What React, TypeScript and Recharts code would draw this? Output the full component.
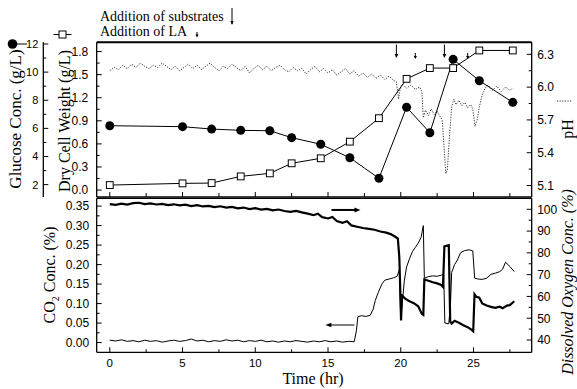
import React from 'react';
import { ComposedChart, Line, XAxis, YAxis, ReferenceDot } from 'recharts';

// ---------- data ----------
const sampleTime = [0, 5, 7, 9, 11, 12.5, 14.5, 16.5, 18.5, 20.4, 22, 23.6, 25.4, 27.7];
const glucoseConc = [6.19, 6.12, 5.95, 5.86, 5.83, 5.34, 4.87, 3.91, 2.45, 7.5, 5.69, 10.91, 9.39, 7.85];
const dryCellWeight = [0.065, 0.087, 0.091, 0.178, 0.217, 0.348, 0.413, 0.629, 0.934, 1.445, 1.585, 1.585, 1.814, 1.814];

const phTime = [
  0, 0.3, 0.6, 0.9, 1.2, 1.5, 1.8, 2.1, 2.4, 2.7, 3.0, 3.3, 3.6, 3.9, 4.2, 4.5, 4.8, 5.1, 5.4, 5.7,
  6.0, 6.3, 6.6, 6.9, 7.2, 7.5, 7.8, 8.1, 8.4, 8.7, 9.0, 9.3, 9.6, 9.9, 10.2, 10.5, 10.8, 11.1, 11.4, 11.7,
  12.0, 12.3, 12.6, 12.9, 13.2, 13.5, 13.8, 14.1, 14.4, 14.7, 15.0, 15.3, 15.6, 15.9, 16.2, 16.5, 16.8, 17.1, 17.4, 17.7,
  18.0, 18.3, 18.6, 18.9, 19.2, 19.5, 19.7, 19.85, 19.95, 20.1, 20.4, 20.7, 21.0, 21.3, 21.45, 21.55, 21.7, 21.9, 22.1, 22.3,
  22.5, 22.7, 22.85, 23.0, 23.1, 23.2, 23.35, 23.5, 23.65, 23.8, 24.0, 24.2, 24.4, 24.6, 24.8, 24.95, 25.1, 25.25, 25.4, 25.6,
  25.8, 26.0, 26.3, 26.6, 26.9, 27.2, 27.5, 27.7,
];
const phValue = [
  6.15, 6.18, 6.16, 6.2, 6.17, 6.21, 6.18, 6.22, 6.19, 6.17, 6.2, 6.18, 6.22, 6.19, 6.16, 6.19, 6.15, 6.18, 6.21, 6.17,
  6.2, 6.16, 6.19, 6.22, 6.18, 6.15, 6.19, 6.17, 6.21, 6.18, 6.15, 6.19, 6.13, 6.17, 6.2, 6.16, 6.19, 6.15, 6.18, 6.2,
  6.16, 6.14, 6.18, 6.15, 6.17, 6.12, 6.16, 6.19, 6.14, 6.17, 6.13, 6.16, 6.11, 6.14, 6.17, 6.12, 6.15, 6.1, 6.13, 6.09,
  6.12, 6.08, 6.11, 6.07, 6.1, 6.06, 6.05, 5.89, 5.98, 6.03, 5.99, 6.02, 5.98, 6.0, 5.96, 5.72, 5.79, 5.74, 5.8, 5.75,
  5.78, 5.73, 5.7, 5.4, 5.21, 5.24, 5.55, 5.82, 5.89, 5.84, 5.88, 5.83, 5.86, 5.81, 5.84, 5.8, 5.64, 5.7, 5.82, 5.93,
  5.99, 6.02, 5.97, 6.01, 5.96, 6.0, 5.97, 5.99,
];

const co2Time = [
  0, 0.4, 0.8, 1.2, 1.6, 2.0, 2.4, 2.8, 3.2, 3.6, 4.0, 4.4, 4.8, 5.2, 5.6, 6.0, 6.4, 6.8, 7.2, 7.6,
  8.0, 8.4, 8.8, 9.2, 9.6, 10.0, 10.4, 10.8, 11.2, 11.6, 12.0, 12.4, 12.8, 13.2, 13.6, 14.0, 14.4, 14.8, 15.2, 15.6,
  16.0, 16.4, 16.8, 16.95, 17.05, 17.3, 17.6, 17.9, 18.1, 18.25, 18.45, 18.7, 18.9, 19.2, 19.5, 19.75, 19.9, 20.0, 20.1, 20.25,
  20.4, 20.6, 20.8, 21.0, 21.2, 21.4, 21.55, 21.62, 21.9, 22.2, 22.5, 22.8, 22.95, 23.03, 23.3, 23.42, 23.5, 23.7, 23.9, 24.1,
  24.4, 24.7, 24.95, 25.08, 25.3, 25.6, 25.9, 26.2, 26.5, 26.8, 27.0, 27.2, 27.5, 27.8,
];
const co2Conc = [
  0.006, 0.004, 0.007, 0.003, 0.005, 0.002, 0.006, 0.003, 0.005, 0.001, 0.004, 0.006, 0.003, 0.005, 0.009, 0.004, 0.006, 0.002, 0.005, 0.003,
  0.007, 0.004, 0.006, 0.002, 0.005, 0.003, 0.006, 0.002, 0.004, 0.001, 0.004, 0.002, 0.005, 0.003, 0.001, 0.004, 0.002, 0.005, 0.002, 0.004,
  0.001, 0.003, 0.002, 0.03, 0.066, 0.069, 0.067, 0.07, 0.085, 0.108, 0.128, 0.15, 0.16, 0.163, 0.166, 0.17, 0.186, 0.058, 0.1, 0.16,
  0.194, 0.215, 0.233, 0.244, 0.255, 0.27, 0.3, 0.165, 0.169, 0.171, 0.17, 0.173, 0.177, 0.05, 0.048, 0.1, 0.18, 0.2, 0.212, 0.23,
  0.236, 0.238, 0.235, 0.165, 0.163, 0.162, 0.165, 0.175, 0.178, 0.182, 0.188, 0.206, 0.195, 0.182,
];

const doTime = [
  0, 0.4, 0.8, 1.2, 1.6, 2.0, 2.4, 2.8, 3.2, 3.6, 4.0, 4.4, 4.8, 5.2, 5.6, 6.0, 6.4, 6.8, 7.2, 7.6,
  8.0, 8.4, 8.8, 9.2, 9.6, 10.0, 10.4, 10.8, 11.2, 11.6, 12.0, 12.4, 12.8, 13.2, 13.6, 14.0, 14.3, 14.6, 15.0, 15.3,
  15.6, 16.0, 16.3, 16.6, 17.0, 17.4, 17.8, 18.2, 18.6, 19.0, 19.3, 19.6, 19.8, 19.9, 19.97, 20.02, 20.08, 20.3, 20.6, 20.9,
  21.2, 21.45, 21.55, 21.62, 21.9, 22.2, 22.5, 22.75, 22.9, 23.0, 23.3, 23.4, 23.5, 23.7, 24.0, 24.3, 24.6, 24.9, 24.98, 25.07,
  25.2, 25.4, 25.6, 25.9, 26.2, 26.5, 26.8, 27.0, 27.3, 27.5, 27.7, 27.8,
];
const doConc = [
  102.4, 102.0, 102.6, 102.2, 102.8, 103.0, 102.4, 102.7, 102.2, 102.5, 101.9, 102.3, 101.8, 102.1, 101.5, 101.9, 101.3, 101.6, 101.0, 101.4,
  100.8, 101.1, 100.4, 100.8, 100.1, 100.5, 99.9, 100.2, 99.5, 99.9, 99.2, 98.8, 99.3, 98.6, 98.0, 97.3, 98.0, 96.4, 95.8, 96.5,
  94.6, 93.8, 94.5, 92.6, 92.0, 91.4, 91.0, 90.6, 89.8, 89.3, 88.6, 87.5, 86.5, 78.0, 62.0, 49.0, 60.5, 59.0, 57.8, 56.9,
  55.5, 52.0, 51.5, 67.8, 67.2, 66.5, 66.0, 65.4, 64.4, 83.0, 83.5, 48.5, 47.5, 48.8, 47.9, 46.8, 45.9, 44.5, 44.0, 61.0,
  59.8, 59.4, 56.8, 55.8, 55.2, 54.8, 55.3, 54.6, 55.8, 56.0, 57.2, 57.8,
];

const substrateAdditionTime = [19.7, 23.0];
const laAdditionTime = [21.0, 24.6];

const xMajor = [0, 5, 10, 15, 20, 25];
const xMinor = [2.5, 7.5, 12.5, 17.5, 22.5, 27.5];
const glucoseMajor = [2, 4, 6, 8, 10, 12];
const glucoseMinor = [3, 5, 7, 9, 11];
const dcwMajor = [0, 0.3, 0.6, 0.9, 1.2, 1.5, 1.8];
const dcwMinor = [0.15, 0.45, 0.75, 1.05, 1.35, 1.65];
const phMajor = [5.1, 5.4, 5.7, 6.0, 6.3];
const phMinor = [5.25, 5.55, 5.85, 6.15];
const co2Major = [0, 0.05, 0.1, 0.15, 0.2, 0.25, 0.3, 0.35];
const co2Minor = [0.025, 0.075, 0.125, 0.175, 0.225, 0.275, 0.325];
const doMajor = [40, 50, 60, 70, 80, 90, 100];
const doMinor = [45, 55, 65, 75, 85, 95];

const rows = (ts: number[], vs: number[]) => ts.map((t, i) => ({ t, v: vs[i] }));
const glucoseData = rows(sampleTime, glucoseConc);
const dcwData = rows(sampleTime, dryCellWeight);
const phData = rows(phTime, phValue);
const co2Data = rows(co2Time, co2Conc);
const doData = rows(doTime, doConc);

// ---------- helpers ----------
const SANS = "'Liberation Sans', Arial, Helvetica, sans-serif";
const SERIF = "'Liberation Serif', 'Times New Roman', serif";
const isIn = (v: number, arr: number[]) => arr.some((a) => Math.abs(a - v) < 1e-6);

type TickOpts = {
  side: 'left' | 'right' | 'bottom';
  majors: number[];
  fmt: (v: number) => string;
  gap: number;
  fontSize: number;
  showLabel?: boolean;
  majorLen?: number;
  minorLen?: number;
};

function makeTick(o: TickOpts) {
  return (props: any) => {
    const { x, y, payload } = props;
    const v = payload.value;
    const major = isIn(v, o.majors);
    const len = major ? o.majorLen ?? 5 : o.minorLen ?? 3;
    const show = major && o.showLabel !== false;
    if (o.side === 'left') {
      return (
        <g>
          <line x1={x} y1={y} x2={x + len} y2={y} stroke="#000" strokeWidth={1} />
          {show && (
            <text x={x - o.gap} y={y} dy="0.36em" textAnchor="end" fontSize={o.fontSize} fontFamily={SANS} fill="#000">
              {o.fmt(v)}
            </text>
          )}
        </g>
      );
    }
    if (o.side === 'right') {
      return (
        <g>
          <line x1={x} y1={y} x2={x - len} y2={y} stroke="#000" strokeWidth={1} />
          {show && (
            <text x={x + o.gap} y={y} dy="0.36em" textAnchor="start" fontSize={o.fontSize} fontFamily={SANS} fill="#000">
              {o.fmt(v)}
            </text>
          )}
        </g>
      );
    }
    return (
      <g>
        <line x1={x} y1={y} x2={x} y2={y - len} stroke="#000" strokeWidth={1} />
        {show && (
          <text x={x} y={y + o.gap} textAnchor="middle" fontSize={o.fontSize} fontFamily={SANS} fill="#000">
            {o.fmt(v)}
          </text>
        )}
      </g>
    );
  };
}

const squareDot = (p: any) => (
  <rect key={`sq-${p.index}`} x={p.cx - 3.4} y={p.cy - 3.4} width={6.8} height={6.8} fill="#fff" stroke="#000" strokeWidth={1} />
);

const substrateArrow = (p: any) => (
  <g>
    <line x1={p.cx} y1={p.cy - 6.5} x2={p.cx} y2={p.cy + 6} stroke="#000" strokeWidth={1} />
    <path d={`M${p.cx - 1.8},${p.cy + 3} L${p.cx},${p.cy + 7} L${p.cx + 1.8},${p.cy + 3} Z`} fill="#000" />
  </g>
);
const laArrow = (p: any) => (
  <g>
    <line x1={p.cx} y1={p.cy - 3} x2={p.cx} y2={p.cy + 1} stroke="#000" strokeWidth={1} />
    <path d={`M${p.cx - 1.6},${p.cy} L${p.cx},${p.cy + 3} L${p.cx + 1.6},${p.cy} Z`} fill="#000" />
  </g>
);
const rightArrow = (p: any) => (
  <g>
    <line x1={p.cx - 14} y1={p.cy} x2={p.cx + 11} y2={p.cy} stroke="#000" strokeWidth={2} />
    <path d={`M${p.cx + 9},${p.cy - 2.5} L${p.cx + 15},${p.cy} L${p.cx + 9},${p.cy + 2.5} Z`} fill="#000" />
  </g>
);
const leftArrow = (p: any) => (
  <g>
    <line x1={p.cx - 11} y1={p.cy} x2={p.cx + 14} y2={p.cy} stroke="#000" strokeWidth={1} />
    <path d={`M${p.cx - 9},${p.cy - 2.3} L${p.cx - 15},${p.cy} L${p.cx - 9},${p.cy + 2.3} Z`} fill="#000" />
  </g>
);

const W = 577;
const H = 389;
const xDomain: [number, number] = [-0.9, 29];
const axisLine = { stroke: '#000', strokeWidth: 1.3 };
const tickCommon = { interval: 0 as const, tickSize: 0, tickMargin: 0, tickLine: false };

export default function App() {
  return (
    <div style={{ position: 'absolute', left: 0, top: 0, width: W, height: H, background: '#fff', overflow: 'hidden' }}>
      {/* top panel: plot 96.7..531.7 x 42.3..197 */}
      <div style={{ position: 'absolute', left: 0, top: 0 }}>
        <ComposedChart width={W} height={H} margin={{ top: 41.3, right: 44.3, bottom: H - 198, left: 42.3 }}>
          <XAxis
            type="number"
            dataKey="t"
            domain={xDomain}
            allowDataOverflow
            ticks={[...xMajor, ...xMinor]}
            height={1}
            {...tickCommon}
            axisLine={axisLine}
            tick={makeTick({ side: 'bottom', majors: xMajor, fmt: String, gap: 0, fontSize: 11, showLabel: false, majorLen: 5, minorLen: 4 })}
          />
          <XAxis xAxisId="top" orientation="top" type="number" domain={xDomain} allowDataOverflow height={1} tick={false} tickLine={false} axisLine={{ stroke: '#000', strokeWidth: 2 }} />
          <YAxis
            yAxisId="dcw"
            orientation="left"
            type="number"
            domain={[-0.09, 1.92]}
            allowDataOverflow
            width={53.4}
            ticks={[...dcwMajor, ...dcwMinor]}
            {...tickCommon}
            axisLine={axisLine}
            tick={makeTick({ side: 'left', majors: dcwMajor, fmt: (v) => v.toFixed(1), gap: 8.5, fontSize: 12 })}
          />
          <YAxis
            yAxisId="glu"
            orientation="left"
            type="number"
            domain={[1.12, 12.12]}
            allowDataOverflow
            width={1}
            ticks={[...glucoseMajor, ...glucoseMinor]}
            {...tickCommon}
            axisLine={axisLine}
            tick={makeTick({ side: 'left', majors: glucoseMajor, fmt: String, gap: 5, fontSize: 11 })}
          />
          <YAxis
            yAxisId="ph"
            orientation="right"
            type="number"
            domain={[4.995, 6.41]}
            allowDataOverflow
            width={1}
            ticks={[...phMajor, ...phMinor]}
            {...tickCommon}
            axisLine={axisLine}
            tick={makeTick({ side: 'right', majors: phMajor, fmt: (v) => v.toFixed(1), gap: 5.5, fontSize: 12 })}
          />
          <Line yAxisId="ph" data={phData} dataKey="v" type="linear" stroke="#333" strokeWidth={1} strokeDasharray="1.2 1.4" dot={false} isAnimationActive={false} />
          <Line yAxisId="dcw" data={dcwData} dataKey="v" type="linear" stroke="#000" strokeWidth={1} dot={squareDot} isAnimationActive={false} />
          <Line yAxisId="glu" data={glucoseData} dataKey="v" type="linear" stroke="#000" strokeWidth={1} dot={{ r: 4.5, fill: '#000', stroke: '#000', strokeWidth: 0 }} isAnimationActive={false} />
          {substrateAdditionTime.map((t) => (
            <ReferenceDot key={`s${t}`} x={t} y={6.33} yAxisId="ph" shape={substrateArrow} />
          ))}
          {laAdditionTime.map((t) => (
            <ReferenceDot key={`l${t}`} x={t} y={6.285} yAxisId="ph" shape={laArrow} />
          ))}
        </ComposedChart>
      </div>

      {/* bottom panel: plot 96.7..531.7 x 198.3..352.3 */}
      <div style={{ position: 'absolute', left: 0, top: 0 }}>
        <ComposedChart width={W} height={H} margin={{ top: 197.3, right: 44.3, bottom: H - 353.3, left: 95.7 }}>
          <XAxis
            type="number"
            dataKey="t"
            domain={xDomain}
            allowDataOverflow
            ticks={[...xMajor, ...xMinor]}
            height={1}
            {...tickCommon}
            axisLine={axisLine}
            tick={makeTick({ side: 'bottom', majors: xMajor, fmt: String, gap: 15, fontSize: 11.5, majorLen: 5, minorLen: 3 })}
          />
          <XAxis xAxisId="top" orientation="top" type="number" domain={xDomain} allowDataOverflow height={1} tick={false} tickLine={false} axisLine={axisLine} />
          <YAxis
            yAxisId="co2"
            orientation="left"
            type="number"
            domain={[-0.025, 0.37]}
            allowDataOverflow
            width={1}
            ticks={[...co2Major, ...co2Minor]}
            {...tickCommon}
            axisLine={axisLine}
            tick={makeTick({ side: 'left', majors: co2Major, fmt: (v) => v.toFixed(2), gap: 7.5, fontSize: 12 })}
          />
          <YAxis
            yAxisId="do"
            orientation="right"
            type="number"
            domain={[34.35, 105.05]}
            allowDataOverflow
            width={1}
            ticks={[...doMajor, ...doMinor]}
            {...tickCommon}
            axisLine={axisLine}
            tick={makeTick({ side: 'right', majors: doMajor, fmt: String, gap: 5.5, fontSize: 12 })}
          />
          <Line yAxisId="co2" data={co2Data} dataKey="v" type="linear" stroke="#000" strokeWidth={1} dot={false} isAnimationActive={false} />
          <Line yAxisId="do" data={doData} dataKey="v" type="linear" stroke="#000" strokeWidth={2.2} dot={false} isAnimationActive={false} />
          <ReferenceDot x={16.2} y={99.7} yAxisId="do" shape={rightArrow} />
          <ReferenceDot x={15.85} y={0.045} yAxisId="co2" shape={leftArrow} />
        </ComposedChart>
      </div>

      {/* titles and legend */}
      <svg width={W} height={H} style={{ position: 'absolute', left: 0, top: 0, pointerEvents: 'none' }}>
        <text x={100} y={20.5} fontFamily={SERIF} fontSize={14} fill="#000">Addition of substrates</text>
        <line x1={232} y1={8} x2={232} y2={24} stroke="#000" strokeWidth={1} />
        <path d="M230.4,21 L232,25 L233.6,21 Z" fill="#000" />
        <text x={100} y={35.5} fontFamily={SERIF} fontSize={14} fill="#000">Addition of LA</text>
        <line x1={197} y1={32} x2={197} y2={35} stroke="#000" strokeWidth={1} />
        <path d="M195.4,34.5 L197,37.5 L198.6,34.5 Z" fill="#000" />

        <line x1={12} y1={44} x2={27} y2={44} stroke="#000" strokeWidth={1} />
        <circle cx={12.5} cy={44} r={4.8} fill="#000" />
        <line x1={53.5} y1={34.5} x2={71.5} y2={34.5} stroke="#000" strokeWidth={1} />
        <rect x={59} y={31} width={7} height={7} fill="#fff" stroke="#000" strokeWidth={1} />

        <text transform="translate(21,119) rotate(-90)" textAnchor="middle" fontFamily={SERIF} fontSize={17} fill="#000">Glucose Conc. (g/L)</text>
        <text transform="translate(70,121) rotate(-90)" textAnchor="middle" fontFamily={SERIF} fontSize={16} fill="#000">Dry Cell Weight (g/L)</text>
        <text transform="translate(55,275) rotate(-90)" textAnchor="middle" fontFamily={SERIF} fontSize={16} fill="#000">
          CO<tspan fontSize={10} dy={4}>2</tspan><tspan dy={-4}> Conc. (%)</tspan>
        </text>

        <line x1={557} y1={101} x2={572} y2={101} stroke="#333" strokeWidth={1} strokeDasharray="1.2 1.4" />
        <text transform="translate(573,129) rotate(-90)" textAnchor="middle" fontFamily={SERIF} fontSize={16} fill="#000">pH</text>
        <text transform="translate(573,282) rotate(-90)" textAnchor="middle" fontFamily={SERIF} fontSize={16} fontStyle="italic" fill="#000">Dissolved Oxygen Conc. (%)</text>

        <text x={313} y={384} textAnchor="middle" fontFamily={SERIF} fontSize={16} fill="#000">Time (hr)</text>
      </svg>
    </div>
  );
}
